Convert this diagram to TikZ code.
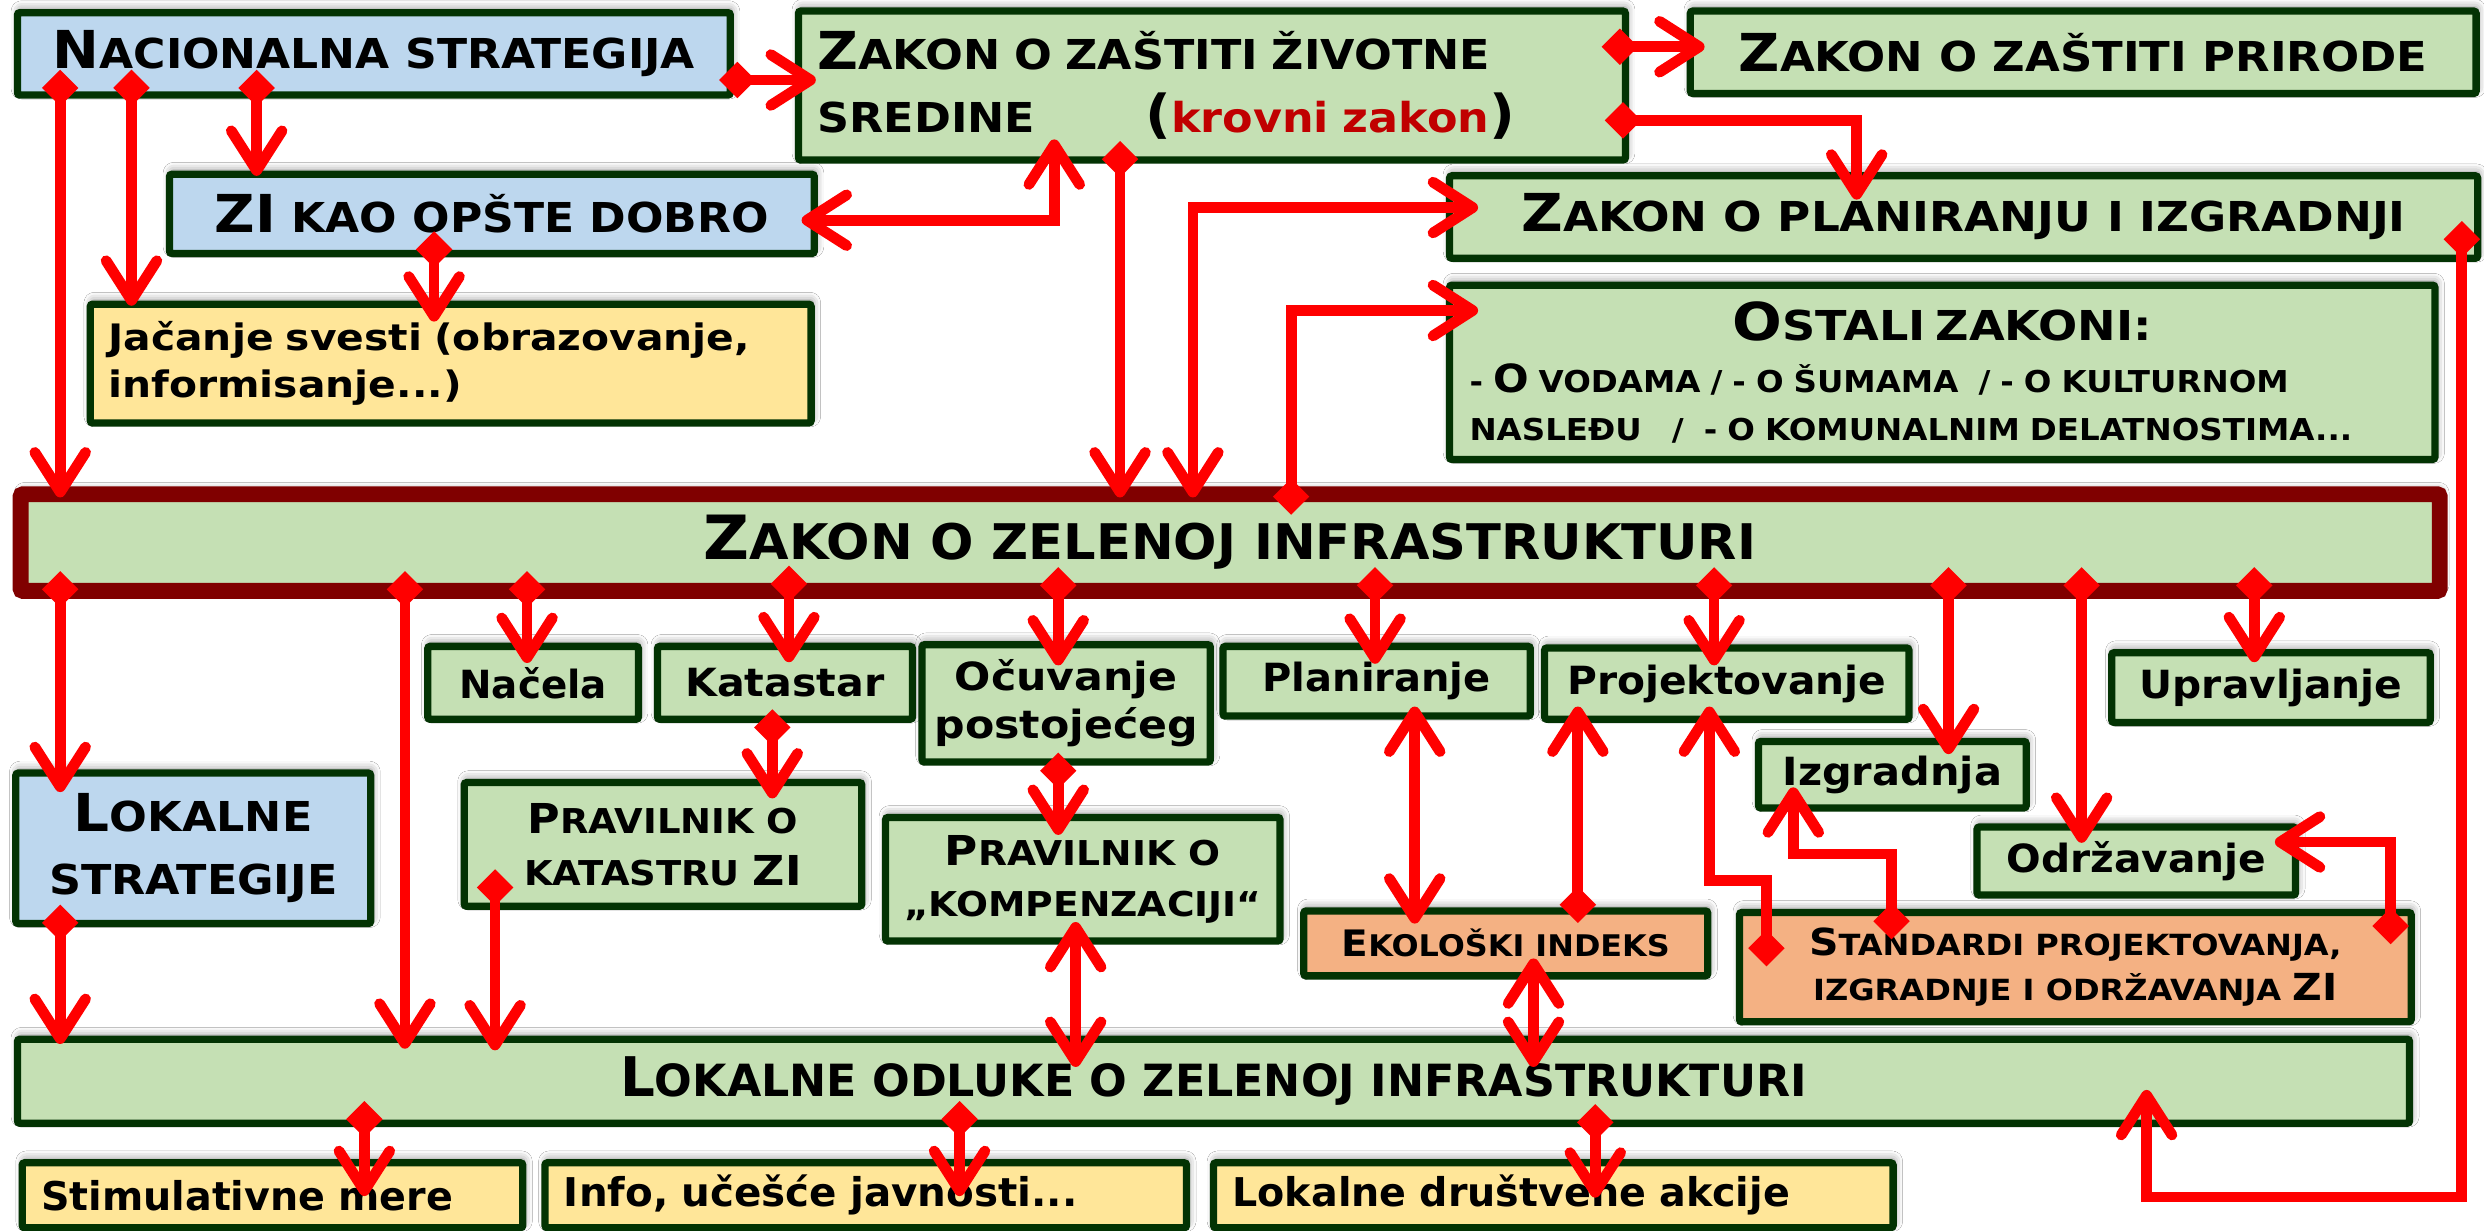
\documentclass[tikz,border=0pt]{standalone}
\usepackage{fontspec}
\setmainfont{DejaVu Sans}
\usetikzlibrary{arrows.meta,calc,shadows.blur}
\definecolor{gfill}{HTML}{C5E0B4}
\definecolor{bfill}{HTML}{BDD7EE}
\definecolor{yfill}{HTML}{FFE699}
\definecolor{ofill}{HTML}{F4B183}
\definecolor{bord}{HTML}{033303}
\definecolor{zred}{HTML}{800000}
\definecolor{kred}{HTML}{C00000}
\definecolor{ared}{HTML}{FF0000}
\newcommand\B[2][33]{{\fontsize{#1}{#1}\selectfont #2}}
\newcommand\fs[3]{\bfseries\fontsize{#1}{#2}\selectfont\addfontfeature{FakeStretch=#3}}
\tikzset{
  dmd/.tip={Diamond[length=23pt,width=23pt,line width=0pt]},
  brb/.tip={Straight Barb[length=25pt,width=32pt,round]},
}
\begin{document}
\begin{tikzpicture}[x=1pt,y=-1pt,
  shd/.style={blur shadow={shadow xshift=1pt,shadow yshift=2.5pt,shadow blur radius=5pt,shadow opacity=45}},
  box/.style={shd,draw=bord,line width=4.6pt,rounded corners=1.5pt,anchor=north west,inner sep=0pt,outer sep=0pt,align=center},
  lbox/.style={box,align=left},
  con/.style={draw=ared,line width=6.8pt},
]
\fill[white] (0,0) rectangle (1568,777);
\useasboundingbox (0,0) rectangle (1568,777);

% ---- top ----
\node[box,fill=bfill,minimum width=450pt,minimum height=52pt,font=\fs{26}{32}{1.07}] (nac) at (11,8) {\B{N}ACIONALNA STRATEGIJA};
\node[lbox,fill=gfill,minimum width=522pt,minimum height=94pt,inner xsep=12pt,text width=498pt,font=\fs{26}{40}{1.08}] (zzs) at (504,7)
  {\mbox{\B{Z}AKON O ZAŠTITI ŽIVOTNE}\\\mbox{\makebox[207pt][l]{SREDINE}\B{(}{\color{kred}krovni zakon}\B{)}}};
\node[box,fill=gfill,minimum width=496pt,minimum height=52pt,font=\fs{26}{32}{1.09}] (zp) at (1067,7) {\B{Z}AKON O ZAŠTITI PRIRODE};
\node[box,fill=bfill,minimum width=407pt,minimum height=50pt,font=\fs{26}{32}{1.07}] (zi) at (107,110) {\B{ZI} KAO OPŠTE DOBRO};
\node[lbox,fill=yfill,minimum width=455pt,minimum height=75pt,inner xsep=11.5pt,text width=432pt,font=\fs{23}{29.5}{1.12}] (jac) at (57,192)
  {\mbox{Jačanje svesti (obrazovanje,}\\\mbox{informisanje...)}};
\node[box,fill=gfill,minimum width=649pt,minimum height=52pt,font=\fs{26}{32}{1.10}] (zpi) at (915,111) {\B{Z}AKON O PLANIRANJU I IZGRADNJI};
\node[lbox,fill=gfill,minimum width=622pt,minimum height=110pt,inner xsep=12.6pt,text width=596.8pt,font=\fs{19}{30}{1.08}] (ost) at (915,180)
  {\makebox[\linewidth][c]{\fontsize{26}{26}\selectfont\addfontfeature{FakeStretch=1.12}\B{O}STALI ZAKONI:}\\[3pt]
   \mbox{- \B[24.5]{O} VODAMA / - O ŠUMAMA\ \ / - O KULTURNOM}\\
   \mbox{NASLEĐU\ \ \ /\ \ - O KOMUNALNIM DELATNOSTIMA...}};

% ---- zakon o ZI ----
\node[box,draw=zred,line width=10pt,fill=gfill,minimum width=1527pt,minimum height=61pt,font=\fs{31}{36}{1.04}] (zzi) at (13,312) {\B[38.5]{Z}AKON O ZELENOJ INFRASTRUKTURI};

% ---- middle ----
\node[box,fill=gfill,minimum width=133pt,minimum height=46pt,font=\fs{24.5}{30}{1.0}] (nacela) at (270,408) {Načela};
\node[box,fill=gfill,minimum width=161pt,minimum height=46pt,font=\fs{24.5}{30}{1.06}] (kat) at (415,408) {Katastar};
\node[box,fill=gfill,minimum width=182pt,minimum height=74pt,font=\fs{24.5}{30.6}{1.10}] (ocu) at (582,407) {Očuvanje\\postojećeg};
\node[box,fill=gfill,minimum width=194pt,minimum height=44pt,font=\fs{24.5}{30}{1.03}] (plan) at (772,408) {Planiranje};
\node[box,fill=gfill,minimum width=230pt,minimum height=45pt,font=\fs{24.5}{30}{1.05}] (proj) at (975,409) {Projektovanje};
\node[box,fill=gfill,minimum width=201pt,minimum height=44pt,font=\fs{24.5}{30}{1.05}] (upr) at (1333,412) {Upravljanje};
\node[box,fill=gfill,minimum width=169pt,minimum height=42pt,font=\fs{24.5}{30}{1.07}] (izg) at (1110,468) {Izgradnja};
\node[box,fill=gfill,minimum width=201pt,minimum height=43pt,font=\fs{24.5}{30}{1.05}] (odr) at (1248,522) {Održavanje};
\node[box,fill=bfill,minimum width=224pt,minimum height=95pt,font=\fs{26}{40}{1.08}] (ls) at (10,488) {\B{L}OKALNE\\STRATEGIJE};
\node[box,fill=gfill,minimum width=251pt,minimum height=78pt,font=\fs{21.6}{33}{1.08}] (pk1) at (293,494) {\B[26]{P}RAVILNIK O\\KATASTRU \B[26]{ZI}};
\node[box,fill=gfill,minimum width=249pt,minimum height=78pt,font=\fs{21.6}{32.5}{1.10}] (pk2) at (559,516) {\B[26]{P}RAVILNIK O\\„KOMPENZACIJI“};
\node[box,fill=ofill,minimum width=255pt,minimum height=41pt,font=\fs{18.8}{24}{1.07}] (ei) at (823,575) {\B[23]{E}KOLOŠKI INDEKS};
\node[box,fill=ofill,minimum width=424pt,minimum height=69pt,font=\fs{18.4}{28.5}{1.10}] (std) at (1098,576) {\B[23.5]{S}TANDARDI PROJEKTOVANJA,\\IZGRADNJE I ODRŽAVANJA \B[23.5]{ZI}};

% ---- bottom ----
\node[box,fill=gfill,minimum width=1510pt,minimum height=53pt,font=\fs{28}{34}{1.0}] (lo) at (11,656) {\B[34.5]{L}OKALNE ODLUKE O ZELENOJ INFRASTRUKTURI};
\node[lbox,fill=yfill,minimum width=316pt,minimum height=41pt,inner xsep=12pt,text width=292pt,font=\fs{25}{30}{1.0}] (stim) at (14,734) {\mbox{Stimulativne mere}};
\node[lbox,fill=yfill,minimum width=405pt,minimum height=41pt,inner xsep=12pt,text width=381pt,font=\fs{25}{30}{1.02}] (info) at (344,734) {\mbox{Info, učešće javnosti...}};
\node[lbox,fill=yfill,minimum width=429pt,minimum height=41pt,inner xsep=12pt,text width=405pt,font=\fs{25}{30}{1.0}] (lda) at (766,734) {\mbox{Lokalne društvene akcije}};

% ---- connectors ----
\draw[con,dmd-brb] ($(nac.north west)+(443,42.5)$) -- ($(zzs.north west)+(11,43.5)$);
\draw[con,dmd-brb] ($(nac.north west)+(151,36)$) -- ($(zi.north west)+(55,1)$);
\draw[con,dmd-brb] ($(nac.north west)+(72,36)$) -- ($(jac.north west)+(26,1)$);
\draw[con,dmd-brb] ($(nac.north west)+(27,36)$) -- ($(zzi.north west)+(25,2)$);
\draw[con,brb-brb] ($(zi.north west)+(399,29)$) -| ($(zzs.north west)+(161.5,81)$);
\draw[con,dmd-brb] ($(zi.north west)+(167,36)$) -- ($(jac.north west)+(217,11)$);
\draw[con,dmd-brb] ($(zzs.north west)+(507,22.5)$) -- ($(zp.north west)+(9,22.5)$);
\draw[con,dmd-brb] ($(zzs.north west)+(509,69)$) -| ($(zpi.north west)+(257,15)$);
\draw[con,dmd-brb] ($(zzs.north west)+(203,82)$) -- ($(zzi.north west)+(694,2)$);
\draw[con,brb-brb] ($(zzi.north west)+(740,2)$) |- ($(zpi.north west)+(18,20)$);
\draw[con,dmd-brb] ($(zzi.north west)+(802,13)$) |- ($(ost.north west)+(18,16)$);
\draw[con,dmd-brb] ($(zpi.north west)+(639,28.5)$) -- ++(0,616.1) -| ($(lo.north west)+(1344,32)$);

\draw[con,dmd-brb] ($(zzi.north west)+(25,48.5)$) -- ($(ls.north west)+(28,12)$);
\draw[con,dmd-brb] ($(zzi.north west)+(242.6,48.5)$) -- ($(lo.north west)+(244.6,6)$);
\draw[con,dmd-brb] ($(zzi.north west)+(319.7,48.5)$) -- ($(nacela.north west)+(62.7,10.5)$);
\draw[con,dmd-brb] ($(zzi.north west)+(485,45)$) -- ($(kat.north west)+(83,10)$);
\draw[con,dmd-brb] ($(zzi.north west)+(655,46)$) -- ($(ocu.north west)+(86,13)$);
\draw[con,dmd-brb] ($(zzi.north west)+(855,46)$) -- ($(plan.north west)+(96,11)$);
\draw[con,dmd-brb] ($(zzi.north west)+(1069,46)$) -- ($(proj.north west)+(107,11)$);
\draw[con,dmd-brb] ($(zzi.north west)+(1217,46)$) -- ($(izg.north west)+(120,8)$);
\draw[con,dmd-brb] ($(zzi.north west)+(1301,46)$) -- ($(odr.north west)+(66,10)$);
\draw[con,dmd-brb] ($(zzi.north west)+(1410,46)$) -- ($(upr.north west)+(90,6)$);

\draw[con,dmd-brb] ($(kat.north west)+(72.5,39.7)$) -- ($(pk1.north west)+(194.5,10)$);
\draw[con,dmd-brb] ($(ocu.north west)+(86,68)$) -- ($(pk2.north west)+(109,11)$);
\draw[con,brb-brb] ($(plan.north west)+(121,38)$) -- ($(ei.north west)+(70,8)$);
\draw[con,dmd-brb] ($(ei.north west)+(173,7.6)$) -- ($(proj.north west)+(21,37)$);
\draw[con,dmd-brb] ($(std.north west)+(17,34)$) -- ++(0,-54.4) -| ($(proj.north west)+(104,37)$);
\draw[con,dmd-brb] ($(std.north west)+(96,17)$) -- ++(0,-54) -| ($(izg.north west)+(22,29)$);
\draw[con,dmd-brb] ($(std.north west)+(411,20)$) |- ($(odr.north west)+(188,9.5)$);

\draw[con,dmd-brb] ($(pk1.north west)+(19.5,54.7)$) -- ($(lo.north west)+(301.5,7)$);
\draw[con,dmd-brb] ($(ls.north west)+(28,83)$) -- ($(lo.north west)+(27,3)$);
\draw[con,brb-brb] ($(pk2.north west)+(120,66)$) -- ($(lo.north west)+(668,17.5)$);
\draw[con,brb-brb] ($(ei.north west)+(145,30)$) -- ($(lo.north west)+(957,17.5)$);

\draw[con,dmd-brb] ($(lo.north west)+(219,39)$) -- ($(stim.north west)+(216,21)$);
\draw[con,dmd-brb] ($(lo.north west)+(594.7,39)$) -- ($(info.north west)+(261.7,21)$);
\draw[con,dmd-brb] ($(lo.north west)+(996,41)$) -- ($(lda.north west)+(241,22)$);
\end{tikzpicture}
\end{document}
